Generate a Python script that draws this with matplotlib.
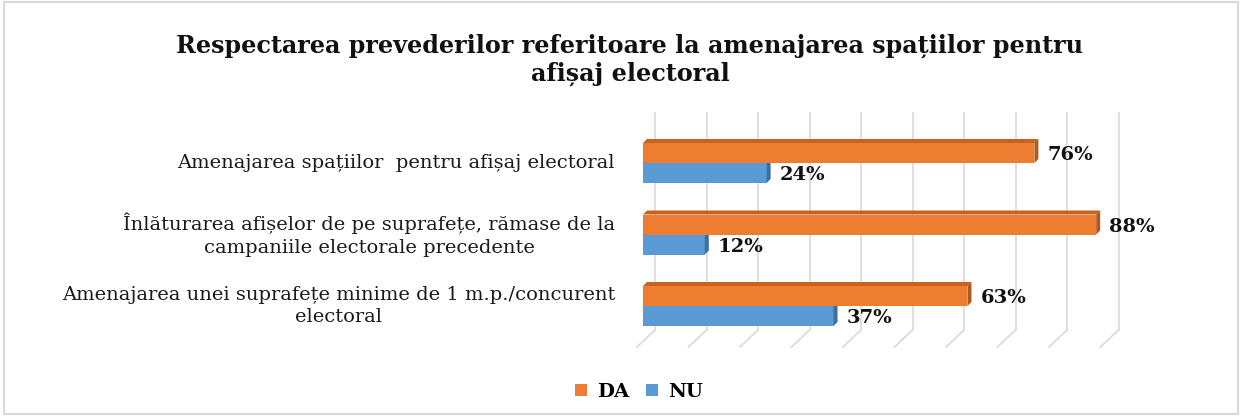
import numpy as np
import matplotlib.pyplot as plt
from matplotlib.patches import Polygon, Rectangle, Patch

# date
categorii = [
    "Amenajarea unei suprafețe minime de 1 m.p./concurent\nelectoral",
    "Înlăturarea afișelor de pe suprafețe, rămase de la\ncampaniile electorale precedente",
    "Amenajarea spațiilor  pentru afișaj electoral",
]
da = [63, 88, 76]
nu = [37, 12, 24]
serii = ["DA", "NU"]
culori = ["#ED7D31", "#5B9BD5"]
culori_lat = ["#AE5A21", "#3C6E9E"]
culori_sus = ["#C8621F", "#4A84BA"]

plt.rcParams['font.family'] = ['DejaVu Serif']

fig = plt.figure(figsize=(12.42, 4.16), dpi=100)
W, H = 1242, 416
# zona graficului: x=0 la 643 px, x=90 la 643+90*5.15 px
x0_px, px_per = 643, 5.15
top_px, bot_px = 113, 347
ax = fig.add_axes([x0_px / W, (H - bot_px) / H, 90 * px_per / W, (bot_px - top_px) / H])
ax.set_xlim(0, 90)
y_unit = 71.5  # px per categorie
ax.set_ylim(-(bot_px - 306) / y_unit, 2 + (163 - top_px) / y_unit)
ax.axis('off')

# grila 3D (perete spate + podea)
dx_back = 12 / px_per
dx_front = -6 / px_per
y_back = -(330 - 306) / y_unit
y_front = ax.get_ylim()[0]
for t in np.arange(0, 91, 10):
    ax.plot([t + dx_back, t + dx_back], [ax.get_ylim()[1], y_back], color='#d9d9d9', lw=1.2, zorder=1, clip_on=False)
    ax.plot([t + dx_back, t + dx_front], [y_back, y_front], color='#d9d9d9', lw=1.2, zorder=1, clip_on=False)

y = np.arange(len(categorii))
h = 20 / y_unit
ddx = 4 / px_per
ddy = 4 / y_unit

for vals, off, c, cl, cs in [(nu, -h, culori[1], culori_lat[1], culori_sus[1]),
                            (da, 0, culori[0], culori_lat[0], culori_sus[0])]:
    ax.barh(y + off, vals, height=h, align='edge', color=c, zorder=3)
    for yi, v in zip(y, vals):
        b = yi + off
        ax.add_patch(Polygon([(v, b), (v, b + h), (v + ddx, b + h + ddy), (v + ddx, b + ddy)],
                             closed=True, facecolor=cl, edgecolor='none', zorder=3))
        ax.add_patch(Polygon([(0, b + h), (v, b + h), (v + ddx, b + h + ddy), (ddx, b + h + ddy)],
                             closed=True, facecolor=cs, edgecolor='none', zorder=2.5))
        ax.text(v + ddx + 9 / px_per, b + h / 2 - 2 / y_unit, f"{v}%", fontsize=14, fontweight='bold',
                va='center', ha='left', color='#111111', zorder=4, clip_on=False)

# etichete categorii
for yi, lab in zip(y, categorii):
    ax.text(-28 / px_per, yi, lab, ha='right', va='center', multialignment='center',
            fontsize=14, color='#1a1a1a', linespacing=1.35)

fig.suptitle("Respectarea prevederilor referitoare la amenajarea spațiilor pentru\nafișaj electoral",
             x=630 / W, y=1 - 34 / H, va='top', fontsize=17.2, fontweight='bold', color='#111111',
             linespacing=1.15)

handles = [Patch(facecolor=culori[0]), Patch(facecolor=culori[1])]
leg = fig.legend(handles, serii, loc='center', bbox_to_anchor=(639 / W, 1 - 392 / H), ncol=2,
                 frameon=False, handlelength=0.6, handleheight=0.6, handletextpad=0.5,
                 columnspacing=0.9, prop={'weight': 'bold', 'size': 14})

fig.patches.append(Rectangle((4 / W, 2 / H), 1 - 8 / W, 1 - 4 / H, transform=fig.transFigure,
                             fill=False, edgecolor='#d9d9d9', lw=1.5))

fig.savefig('out.png', dpi=100, facecolor='white')
